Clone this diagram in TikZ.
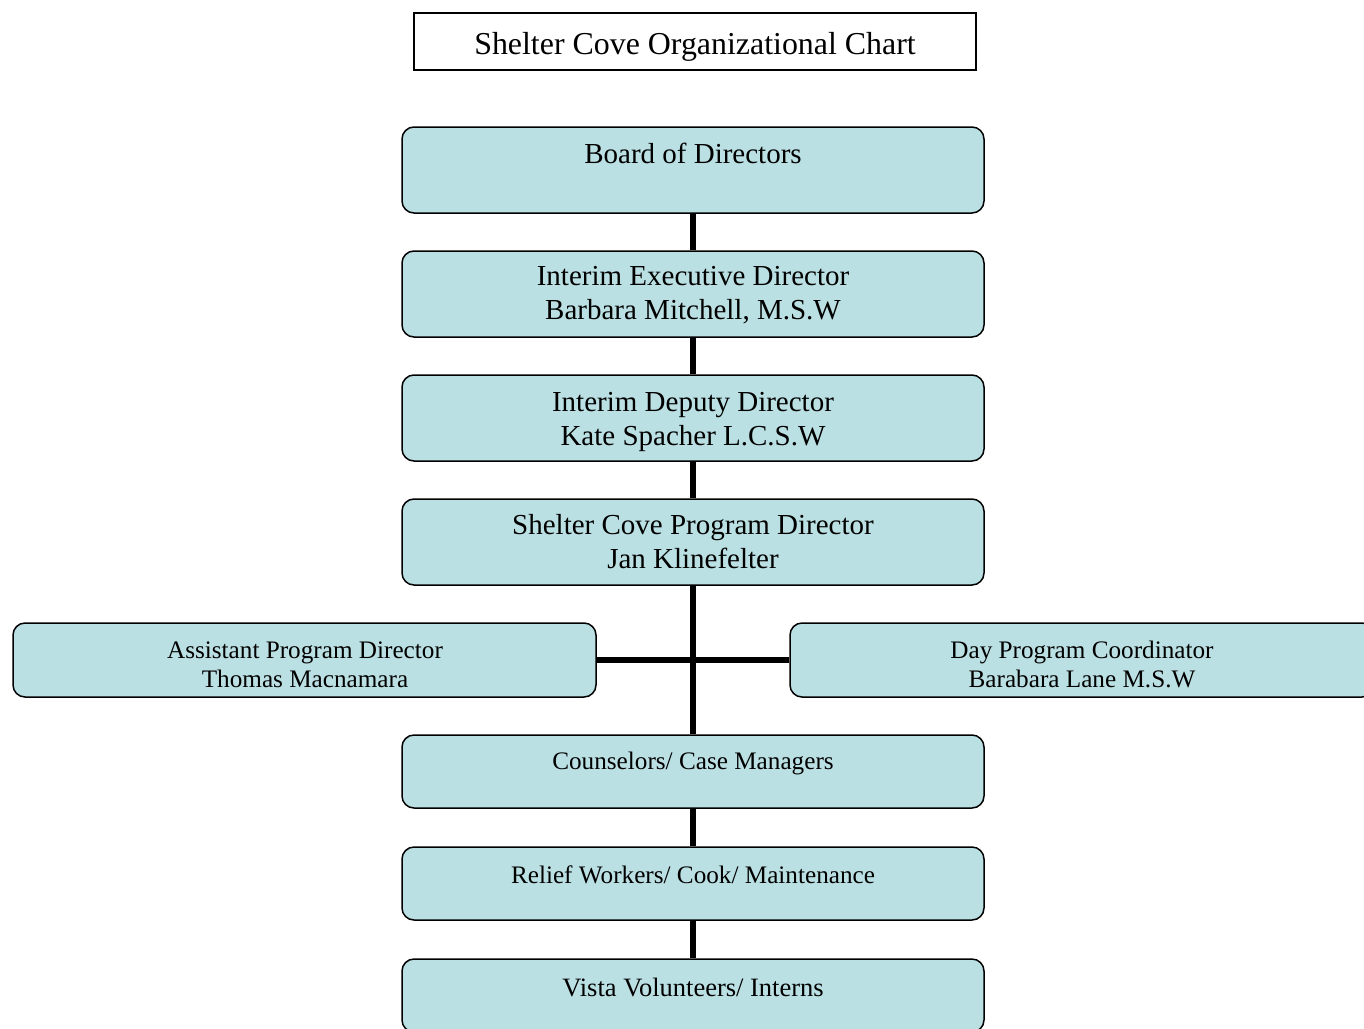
\documentclass[tikz,border=0pt]{standalone}
\usepackage{fontspec}
\setmainfont{Liberation Serif}
\definecolor{boxfill}{HTML}{BBE0E3}
\begin{document}
\begin{tikzpicture}[x=1pt,y=-1pt,
  orgbox/.style={draw=black,line width=1.5pt,fill=boxfill,rounded corners=12pt,minimum width=582pt,inner sep=0pt},
  tallbox/.style={orgbox,minimum height=86pt},
  shortbox/.style={orgbox,minimum height=73pt},
  bigtxt/.style={font=\fontsize{29}{34}\selectfont,align=center,inner sep=0pt},
  smalltxt/.style={font=\fontsize{25.2}{29}\selectfont,align=center,inner sep=0pt},
  link/.style={line width=5.5pt}]
\useasboundingbox (0,0) rectangle (1364,1028);
\clip (0,0) rectangle (1364,1028);
% title
\node[draw=black,line width=1.5pt,minimum width=562pt,minimum height=57pt,inner sep=0pt,
      text height=32pt,text depth=7pt,
      font=\fontsize{31.9}{36}\selectfont] (title) at (695,41.5) {Shelter Cove Organizational Chart};
% boxes
\node[tallbox] (board) at (693,170) {};
\node[tallbox] (exec) at (693,294) {};
\node[tallbox] (deputy) at (693,418) {};
\node[tallbox] (prog) at (693,542) {};
\node[shortbox,minimum height=74pt,minimum width=583pt] (asst) at (304.5,660) {};
\node[shortbox,minimum height=74pt,minimum width=584pt] (day) at (1082,660) {};
\node[shortbox] (couns) at (693,771.5) {};
\node[shortbox] (relief) at (693,883.5) {};
\node[shortbox] (vista) at (693,995.5) {};
% connectors
\draw[link] (board.south) -- (exec.north);
\draw[link] (exec.south) -- (deputy.north);
\draw[link] (deputy.south) -- (prog.north);
\draw[link] (prog.south) -- (couns.north);
\draw[link] (asst.east) -- (day.west);
\draw[link] (couns.south) -- (relief.north);
\draw[link] (relief.south) -- (vista.north);
% texts
\node[bigtxt] (tboard) at (693,153) {Board of Directors};
\node[bigtxt] (texec) at (693,295.5) {Interim Executive Director\\Barbara Mitchell, M.S.W};
\node[bigtxt] (tdeputy) at (693,421.5) {Interim Deputy Director\\Kate Spacher L.C.S.W};
\node[bigtxt] (tprog) at (693,541.5) {Shelter Cove Program Director\\Jan Klinefelter};
\node[smalltxt] (tasst) at (305,664.5) {Assistant Program Director\\Thomas Macnamara};
\node[smalltxt] (tday) at (1082,664.5) {Day Program Coordinator\\Barabara Lane M.S.W};
\node[smalltxt] (tcouns) at (693,763) {Counselors/ Case Managers};
\node[smalltxt] (trelief) at (693,875) {Relief Workers/ Cook/ Maintenance};
\node[smalltxt,font=\fontsize{26.5}{31}\selectfont] (tvista) at (693,987) {Vista Volunteers/ Interns};
\end{tikzpicture}
\end{document}
